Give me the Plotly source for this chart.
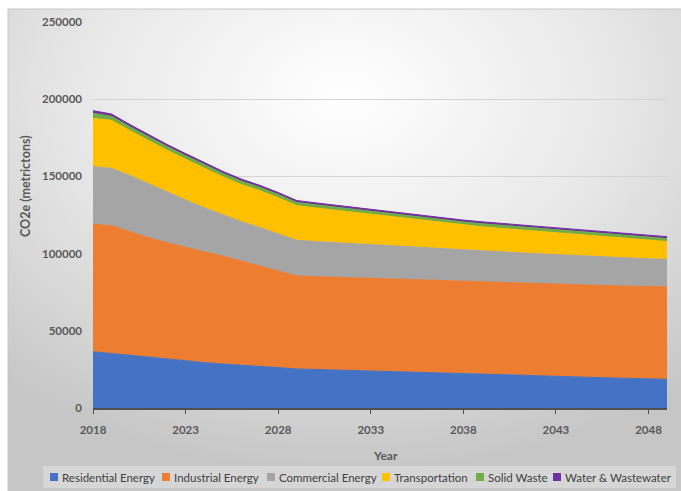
import base64
import plotly.graph_objects as go

# Annual CO2e emissions by sector (metric tons)
years = list(range(2018, 2050))

residential = [36400, 35400, 34300, 33000, 31800, 30500, 29400, 28500, 27800, 27200,
               26200, 25300, 25000, 24700, 24400, 24100, 23700, 23400, 23100, 22800,
               22500, 22100, 21700, 21300, 20900, 20400, 20100, 19800, 19500, 19200,
               18900, 18600]
industrial = [82600, 82700, 79900, 77300, 75300, 73500, 71800, 69900, 67400, 65000,
              62700, 60200, 60100, 60000, 59900, 59800, 59800, 59700, 59600, 59500,
              59400, 59400, 59400, 59500, 59500, 59700, 59700, 59700, 59700, 59700,
              59800, 59900]
commercial = [37300, 37100, 36300, 34800, 32600, 30700, 28500, 26600, 25500, 24700,
              23900, 23100, 22700, 22400, 22100, 21800, 21500, 21200, 20900, 20600,
              20400, 20200, 20000, 19700, 19500, 19200, 19000, 18700, 18400, 18200,
              17900, 17800]
transportation = [31300, 31100, 29100, 28000, 27200, 26400, 25500, 24800, 24100, 23900,
                  23400, 22500, 21800, 21100, 20400, 19700, 19000, 18300, 17600, 16900,
                  16200, 15700, 15300, 14900, 14500, 14100, 13700, 13300, 12900, 12500,
                  12000, 11500]
solid_waste = [3300, 2600, 2500, 2450, 2400, 2350, 2300, 2250, 2200, 2150,
               2100, 2050, 2050, 2000, 2000, 2000, 2000, 2000, 2000, 1950,
               1950, 1950, 1950, 1950, 1900, 1900, 1900, 1900, 1900, 1900,
               1900, 1900]
water = [1700, 1500, 1450, 1400, 1400, 1350, 1350, 1300, 1300, 1300,
         1300, 1250, 1250, 1250, 1250, 1250, 1250, 1250, 1250, 1250,
         1250, 1250, 1250, 1250, 1250, 1250, 1250, 1250, 1250, 1250,
         1250, 1250]

series_names = ["Residential Energy", "Industrial Energy", "Commercial Energy",
                "Transportation", "Solid Waste", "Water & Wastewater"]
series_values = [residential, industrial, commercial, transportation, solid_waste, water]
series_colors = ["#4472C4", "#ED7D31", "#A5A5A5", "#FFC000", "#70AD47", "#7030A0"]

x_ticks = [2018, 2023, 2028, 2033, 2038, 2043, 2048]
y_ticks = [0, 50000, 100000, 150000, 200000, 250000]

W, H = 681, 491
ML, MR, MT, MB = 93, 14, 22, 83
PW, PH = W - ML - MR, H - MT - MB


def px(x):
    return (x - ML) / PW


def py(y):
    return (H - MB - y) / PH


fig = go.Figure()
for name, vals, col in zip(series_names, series_values, series_colors):
    fig.add_trace(go.Scatter(
        x=years, y=vals, name=name, mode="lines",
        stackgroup="co2", line=dict(color=col, width=1),
        fillcolor=col, showlegend=False,
    ))

# Soft radial background of the chart frame
svg = (
    '<svg xmlns="http://www.w3.org/2000/svg" width="675" height="484">'
    '<defs><radialGradient id="g" cx="0.5" cy="0.18" r="0.78">'
    '<stop offset="0" stop-color="#ffffff"/>'
    '<stop offset="0.5" stop-color="#e8e8e8"/>'
    '<stop offset="1" stop-color="#c6c6c6"/>'
    '</radialGradient></defs>'
    '<rect x="0" y="0" width="675" height="484" fill="url(#g)"/>'
    '</svg>'
)
bg_src = "data:image/svg+xml;base64," + base64.b64encode(svg.encode()).decode()

fx0, fy0, fx1, fy1 = 8, 9, 683, 493
images = [dict(
    source=bg_src, xref="paper", yref="paper",
    x=px(fx0), y=py(fy0), sizex=(fx1 - fx0) / PW, sizey=(fy1 - fy0) / PH,
    xanchor="left", yanchor="top", sizing="stretch", layer="below",
)]

shapes = [
    dict(type="rect", xref="paper", yref="paper",
         x0=px(fx0), x1=px(fx1), y0=py(fy1), y1=py(fy0),
         line=dict(color="#c6c6c6", width=1), fillcolor="rgba(0,0,0,0)", layer="below"),
    # legend box
    dict(type="rect", xref="paper", yref="paper",
         x0=px(43), x1=px(676), y0=py(488), y1=py(466),
         line=dict(width=0), fillcolor="rgba(255,255,255,0.28)", layer="below"),
]

annotations = []
legend_left = [50, 162, 267, 382, 476, 553]
ly = 477
for name, col, lx in zip(series_names, series_colors, legend_left):
    shapes.append(dict(type="rect", xref="paper", yref="paper",
                       x0=px(lx), x1=px(lx + 8), y0=py(ly + 4), y1=py(ly - 4),
                       line=dict(width=0), fillcolor=col))
    annotations.append(dict(text=name, xref="paper", yref="paper",
                            x=px(lx + 10), y=py(ly), xanchor="left", yanchor="middle",
                            showarrow=False,
                            font=dict(family="Lato", size=11.5, color="#404040")))

annotations.append(dict(text="Year", xref="paper", yref="paper",
                        x=px(385), y=py(455), xanchor="center", yanchor="middle",
                        showarrow=False,
                        font=dict(family="Lato", size=12, color="#595959", weight="bold")))
annotations.append(dict(text="CO2e (metrictons)", xref="paper", yref="paper",
                        x=px(26), y=py(186), xanchor="center", yanchor="middle",
                        textangle=-90, showarrow=False,
                        font=dict(family="Lato", size=12.5, color="#595959", weight="bold")))

fig.update_layout(
    width=W, height=H,
    margin=dict(l=ML, r=MR, t=MT, b=MB, autoexpand=False),
    paper_bgcolor="white", plot_bgcolor="rgba(0,0,0,0)",
    showlegend=False,
    images=images, shapes=shapes, annotations=annotations,
    xaxis=dict(
        range=[2018, 2049], tickvals=x_ticks, ticktext=[str(t) for t in x_ticks],
        showgrid=False, zeroline=False,
        showline=True, linecolor="#505050", linewidth=1.5,
        ticks="outside", ticklen=4, tickcolor="#505050", tickwidth=1,
        ticklabelstandoff=6,
        tickfont=dict(family="Lato", size=11.5, color="#595959", weight="bold"),
    ),
    yaxis=dict(
        range=[0, 250000], tickvals=y_ticks, tickformat="d",
        showgrid=True, gridcolor="#d4d4d4", gridwidth=1.2, zeroline=False,
        showline=False, ticks="", ticklabelstandoff=10,
        tickfont=dict(family="Lato", size=11.5, color="#595959", weight="bold"),
    ),
)

fig.write_html("out.html")
